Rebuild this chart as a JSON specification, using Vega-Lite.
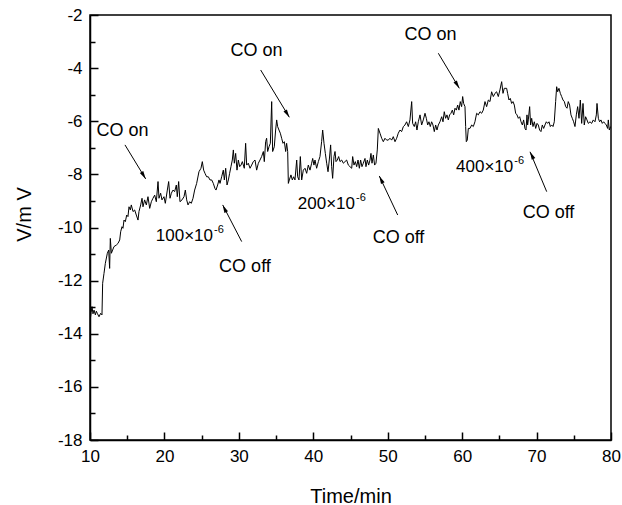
{
  "$schema": "https://vega.github.io/schema/vega-lite/v6.json",
  "width": 521,
  "height": 425,
  "autosize": "none",
  "padding": {"left": 90, "top": 15, "right": 11, "bottom": 65},
  "background": "white",
  "config": {
    "view": {"stroke": "black", "strokeWidth": 1.5},
    "font": "Liberation Sans",
    "axis": {
      "grid": false,
      "labelFlush": false,
      "labelOverlap": false,
      "domainColor": "black",
      "domainWidth": 1.5,
      "tickColor": "black",
      "tickWidth": 1.5,
      "labelColor": "black",
      "labelFont": "Liberation Sans",
      "labelFontSize": 17,
      "titleFont": "Liberation Sans",
      "titleFontWeight": "normal",
      "titleColor": "black",
      "titleFontSize": 20
    }
  },
  "datasets": {
    "trace": [
      {"t":10.00,"v":-13.55},{"t":10.15,"v":-13.20},{"t":10.27,"v":-12.98},{"t":10.40,"v":-13.25},{"t":10.54,"v":-13.11},
      {"t":10.72,"v":-13.29},{"t":10.85,"v":-13.15},{"t":10.98,"v":-13.23},{"t":11.21,"v":-13.36},{"t":11.43,"v":-13.23},
      {"t":11.61,"v":-13.29},{"t":11.70,"v":-12.10},{"t":11.88,"v":-11.73},{"t":12.06,"v":-11.35},{"t":12.33,"v":-10.97},
      {"t":12.51,"v":-10.85},{"t":12.64,"v":-11.54},{"t":12.73,"v":-10.41},{"t":12.87,"v":-10.97},{"t":13.04,"v":-10.85},
      {"t":13.22,"v":-10.72},{"t":13.54,"v":-10.66},{"t":13.76,"v":-10.60},{"t":13.99,"v":-10.47},{"t":14.12,"v":-10.16},
      {"t":14.30,"v":-9.97},{"t":14.43,"v":-10.03},{"t":14.57,"v":-9.72},{"t":14.75,"v":-9.78},{"t":14.93,"v":-9.53},
      {"t":15.10,"v":-9.59},{"t":15.24,"v":-9.22},{"t":15.42,"v":-9.34},{"t":15.55,"v":-9.15},{"t":15.78,"v":-9.40},
      {"t":16.00,"v":-9.34},{"t":16.22,"v":-9.53},{"t":16.45,"v":-9.72},{"t":16.58,"v":-9.40},{"t":16.81,"v":-9.15},
      {"t":16.99,"v":-8.90},{"t":17.12,"v":-9.22},{"t":17.34,"v":-8.96},{"t":17.57,"v":-9.15},{"t":17.79,"v":-8.84},
      {"t":18.02,"v":-9.28},{"t":18.24,"v":-9.03},{"t":18.46,"v":-8.90},{"t":18.69,"v":-8.78},{"t":18.91,"v":-9.03},
      {"t":19.14,"v":-8.27},{"t":19.27,"v":-8.90},{"t":19.49,"v":-8.71},{"t":19.67,"v":-8.96},{"t":19.94,"v":-8.84},
      {"t":20.12,"v":-9.09},{"t":20.39,"v":-8.59},{"t":20.57,"v":-8.27},{"t":20.75,"v":-8.90},{"t":20.93,"v":-8.71},
      {"t":21.15,"v":-8.59},{"t":21.37,"v":-8.65},{"t":21.60,"v":-8.40},{"t":21.73,"v":-8.84},{"t":21.91,"v":-8.27},
      {"t":22.09,"v":-9.03},{"t":22.36,"v":-8.96},{"t":22.63,"v":-8.84},{"t":22.81,"v":-8.59},{"t":22.99,"v":-8.96},
      {"t":23.17,"v":-9.15},{"t":23.39,"v":-9.03},{"t":23.61,"v":-9.09},{"t":23.84,"v":-8.90},{"t":24.06,"v":-8.59},
      {"t":24.33,"v":-8.34},{"t":24.64,"v":-7.90},{"t":24.91,"v":-7.77},{"t":25.09,"v":-7.52},{"t":25.27,"v":-7.84},
      {"t":25.45,"v":-7.96},{"t":25.67,"v":-8.09},{"t":25.90,"v":-8.09},{"t":26.12,"v":-8.21},{"t":26.35,"v":-8.21},
      {"t":26.57,"v":-8.34},{"t":26.79,"v":-8.53},{"t":26.93,"v":-8.59},{"t":27.15,"v":-8.40},{"t":27.33,"v":-8.21},
      {"t":27.47,"v":-8.34},{"t":27.69,"v":-8.09},{"t":27.91,"v":-7.84},{"t":28.05,"v":-8.21},{"t":28.23,"v":-7.77},
      {"t":28.41,"v":-8.40},{"t":28.59,"v":-8.21},{"t":28.76,"v":-7.96},{"t":28.94,"v":-7.71},{"t":29.12,"v":-7.46},
      {"t":29.26,"v":-7.08},{"t":29.39,"v":-7.58},{"t":29.57,"v":-7.21},{"t":29.75,"v":-7.84},{"t":29.93,"v":-7.46},
      {"t":30.11,"v":-7.71},{"t":30.29,"v":-7.65},{"t":30.47,"v":-7.52},{"t":30.73,"v":-7.77},{"t":30.91,"v":-6.83},
      {"t":31.05,"v":-7.65},{"t":31.27,"v":-7.58},{"t":31.50,"v":-7.77},{"t":31.72,"v":-7.65},{"t":31.94,"v":-7.52},
      {"t":32.17,"v":-7.46},{"t":32.39,"v":-7.84},{"t":32.62,"v":-7.58},{"t":32.84,"v":-7.46},{"t":33.06,"v":-7.33},
      {"t":33.29,"v":-7.14},{"t":33.42,"v":-7.52},{"t":33.60,"v":-6.77},{"t":33.73,"v":-6.64},{"t":33.87,"v":-7.14},
      {"t":34.05,"v":-6.96},{"t":34.23,"v":-6.83},{"t":34.41,"v":-5.26},{"t":34.54,"v":-7.14},{"t":34.76,"v":-6.96},
      {"t":34.94,"v":-6.33},{"t":35.08,"v":-5.95},{"t":35.21,"v":-6.20},{"t":35.39,"v":-6.33},{"t":35.57,"v":-6.45},
      {"t":35.75,"v":-6.64},{"t":35.93,"v":-6.83},{"t":36.11,"v":-6.77},{"t":36.29,"v":-7.14},{"t":36.42,"v":-6.83},
      {"t":36.56,"v":-7.14},{"t":36.65,"v":-8.34},{"t":36.78,"v":-8.21},{"t":37.00,"v":-8.02},{"t":37.18,"v":-8.21},
      {"t":37.36,"v":-8.09},{"t":37.54,"v":-8.21},{"t":37.77,"v":-7.46},{"t":37.90,"v":-8.09},{"t":38.08,"v":-8.21},
      {"t":38.26,"v":-7.33},{"t":38.44,"v":-8.21},{"t":38.66,"v":-7.84},{"t":38.89,"v":-7.77},{"t":39.11,"v":-7.96},
      {"t":39.33,"v":-7.65},{"t":39.56,"v":-7.84},{"t":39.78,"v":-7.58},{"t":39.92,"v":-7.40},{"t":40.09,"v":-7.65},
      {"t":40.23,"v":-7.46},{"t":40.45,"v":-7.77},{"t":40.68,"v":-7.52},{"t":40.90,"v":-7.33},{"t":41.12,"v":-6.77},
      {"t":41.26,"v":-6.33},{"t":41.44,"v":-6.83},{"t":41.62,"v":-7.21},{"t":41.80,"v":-7.58},{"t":41.98,"v":-7.90},
      {"t":42.15,"v":-7.46},{"t":42.33,"v":-6.89},{"t":42.47,"v":-7.71},{"t":42.60,"v":-8.15},{"t":42.78,"v":-7.33},
      {"t":42.92,"v":-7.14},{"t":43.05,"v":-7.52},{"t":43.23,"v":-7.46},{"t":43.41,"v":-7.33},{"t":43.59,"v":-7.52},
      {"t":43.81,"v":-7.46},{"t":44.04,"v":-7.58},{"t":44.26,"v":-7.52},{"t":44.48,"v":-7.46},{"t":44.71,"v":-7.65},
      {"t":44.93,"v":-7.71},{"t":45.16,"v":-7.77},{"t":45.29,"v":-7.33},{"t":45.47,"v":-7.65},{"t":45.65,"v":-7.52},
      {"t":45.83,"v":-7.71},{"t":46.01,"v":-7.46},{"t":46.19,"v":-7.77},{"t":46.36,"v":-7.46},{"t":46.54,"v":-7.71},
      {"t":46.72,"v":-7.58},{"t":46.95,"v":-7.40},{"t":47.08,"v":-7.71},{"t":47.26,"v":-7.46},{"t":47.44,"v":-7.65},
      {"t":47.62,"v":-7.46},{"t":47.75,"v":-7.21},{"t":47.89,"v":-7.58},{"t":48.07,"v":-7.27},{"t":48.24,"v":-7.65},
      {"t":48.42,"v":-7.58},{"t":48.60,"v":-7.08},{"t":48.74,"v":-6.27},{"t":48.96,"v":-6.45},{"t":49.19,"v":-6.64},
      {"t":49.41,"v":-6.77},{"t":49.63,"v":-6.64},{"t":49.86,"v":-6.71},{"t":50.08,"v":-6.71},{"t":50.30,"v":-6.64},
      {"t":50.53,"v":-6.71},{"t":50.75,"v":-6.58},{"t":50.98,"v":-6.77},{"t":51.20,"v":-6.64},{"t":51.42,"v":-6.45},
      {"t":51.65,"v":-6.33},{"t":51.87,"v":-6.39},{"t":52.10,"v":-6.20},{"t":52.32,"v":-6.14},{"t":52.54,"v":-6.02},
      {"t":52.77,"v":-6.20},{"t":52.99,"v":-5.95},{"t":53.22,"v":-5.26},{"t":53.35,"v":-6.08},{"t":53.57,"v":-6.20},
      {"t":53.75,"v":-6.02},{"t":53.93,"v":-6.33},{"t":54.11,"v":-6.02},{"t":54.34,"v":-5.76},{"t":54.56,"v":-6.14},
      {"t":54.78,"v":-5.95},{"t":55.01,"v":-5.70},{"t":55.19,"v":-5.89},{"t":55.37,"v":-6.14},{"t":55.54,"v":-6.02},
      {"t":55.72,"v":-6.20},{"t":55.90,"v":-6.02},{"t":56.08,"v":-6.14},{"t":56.26,"v":-6.39},{"t":56.44,"v":-6.14},
      {"t":56.62,"v":-6.33},{"t":56.80,"v":-6.14},{"t":57.02,"v":-6.02},{"t":57.25,"v":-5.83},{"t":57.43,"v":-6.02},
      {"t":57.60,"v":-5.64},{"t":57.78,"v":-5.89},{"t":57.96,"v":-5.76},{"t":58.14,"v":-5.95},{"t":58.32,"v":-5.76},
      {"t":58.50,"v":-5.70},{"t":58.68,"v":-5.58},{"t":58.86,"v":-5.76},{"t":59.04,"v":-5.51},{"t":59.22,"v":-5.58},
      {"t":59.40,"v":-5.39},{"t":59.57,"v":-5.58},{"t":59.75,"v":-5.26},{"t":59.93,"v":-5.45},{"t":60.07,"v":-5.07},
      {"t":60.20,"v":-5.33},{"t":60.38,"v":-5.45},{"t":60.47,"v":-6.20},{"t":60.56,"v":-6.77},{"t":60.69,"v":-6.71},
      {"t":60.83,"v":-6.27},{"t":61.05,"v":-6.27},{"t":61.28,"v":-6.14},{"t":61.50,"v":-6.20},{"t":61.72,"v":-6.02},
      {"t":61.95,"v":-5.70},{"t":62.17,"v":-5.76},{"t":62.40,"v":-5.64},{"t":62.62,"v":-5.70},{"t":62.84,"v":-5.58},
      {"t":63.07,"v":-5.26},{"t":63.29,"v":-5.45},{"t":63.52,"v":-5.20},{"t":63.74,"v":-5.26},{"t":63.96,"v":-4.89},
      {"t":64.19,"v":-5.07},{"t":64.41,"v":-4.95},{"t":64.63,"v":-4.89},{"t":64.86,"v":-5.07},{"t":65.08,"v":-4.82},
      {"t":65.31,"v":-4.51},{"t":65.49,"v":-4.95},{"t":65.66,"v":-4.76},{"t":65.98,"v":-4.76},{"t":66.11,"v":-4.95},
      {"t":66.29,"v":-5.20},{"t":66.47,"v":-5.14},{"t":66.65,"v":-5.33},{"t":66.83,"v":-5.26},{"t":67.01,"v":-5.39},
      {"t":67.19,"v":-5.70},{"t":67.37,"v":-5.76},{"t":67.55,"v":-5.89},{"t":67.73,"v":-5.83},{"t":67.91,"v":-6.02},
      {"t":68.09,"v":-6.14},{"t":68.26,"v":-5.95},{"t":68.44,"v":-6.27},{"t":68.58,"v":-6.33},{"t":68.71,"v":-5.76},
      {"t":68.80,"v":-6.14},{"t":68.89,"v":-5.95},{"t":69.07,"v":-5.45},{"t":69.20,"v":-6.14},{"t":69.34,"v":-5.89},
      {"t":69.52,"v":-6.20},{"t":69.70,"v":-6.02},{"t":69.88,"v":-6.27},{"t":70.06,"v":-6.08},{"t":70.23,"v":-6.14},
      {"t":70.41,"v":-6.33},{"t":70.59,"v":-6.39},{"t":70.77,"v":-6.14},{"t":70.95,"v":-6.27},{"t":71.13,"v":-6.14},
      {"t":71.31,"v":-6.02},{"t":71.49,"v":-6.08},{"t":71.67,"v":-6.02},{"t":71.85,"v":-6.20},{"t":72.03,"v":-6.14},
      {"t":72.21,"v":-6.20},{"t":72.38,"v":-6.02},{"t":72.56,"v":-5.26},{"t":72.70,"v":-4.70},{"t":72.83,"v":-4.89},
      {"t":73.01,"v":-4.76},{"t":73.19,"v":-4.95},{"t":73.37,"v":-5.07},{"t":73.55,"v":-5.20},{"t":73.73,"v":-5.26},
      {"t":73.91,"v":-5.45},{"t":74.09,"v":-5.51},{"t":74.26,"v":-5.26},{"t":74.44,"v":-5.39},{"t":74.62,"v":-5.76},
      {"t":74.80,"v":-5.89},{"t":74.98,"v":-6.02},{"t":75.16,"v":-6.20},{"t":75.34,"v":-5.76},{"t":75.52,"v":-5.45},
      {"t":75.70,"v":-5.89},{"t":75.88,"v":-5.20},{"t":76.06,"v":-6.08},{"t":76.24,"v":-5.33},{"t":76.41,"v":-6.14},
      {"t":76.59,"v":-5.83},{"t":76.77,"v":-5.95},{"t":76.95,"v":-6.08},{"t":77.18,"v":-6.02},{"t":77.40,"v":-6.08},
      {"t":77.62,"v":-5.95},{"t":77.85,"v":-6.02},{"t":78.03,"v":-5.76},{"t":78.12,"v":-5.33},{"t":78.30,"v":-5.89},
      {"t":78.47,"v":-6.02},{"t":78.65,"v":-5.95},{"t":78.83,"v":-6.08},{"t":79.01,"v":-6.02},{"t":79.19,"v":-6.08},
      {"t":79.37,"v":-6.14},{"t":79.55,"v":-6.27},{"t":79.64,"v":-5.95},{"t":79.77,"v":-6.33},{"t":79.95,"v":-6.20}
    ],
    "arrows": [
      {"kind":"on","t1":14.70,"v1":-6.89,"t2":17.48,"v2":-8.17},
      {"kind":"on","t1":32.93,"v1":-4.07,"t2":36.78,"v2":-5.85},
      {"kind":"off","t1":30.38,"v1":-10.53,"t2":27.83,"v2":-9.15},
      {"kind":"off","t1":51.34,"v1":-9.53,"t2":48.87,"v2":-8.06},
      {"kind":"on","t1":56.80,"v1":-3.44,"t2":59.62,"v2":-4.76},
      {"kind":"off","t1":71.36,"v1":-8.65,"t2":69.12,"v2":-7.15}
    ],
    "notes": [
      {"t":14.37,"v":-6.35,"text":"CO on"},
      {"t":32.37,"v":-3.37,"text":"CO on"},
      {"t":30.82,"v":-11.47,"text":"CO off"},
      {"t":51.45,"v":-10.38,"text":"CO off"},
      {"t":55.75,"v":-2.75,"text":"CO on"},
      {"t":71.60,"v":-9.44,"text":"CO off"}
    ],
    "conc": [
      {"t":26.53,"v":-10.32,"base":"100×10","exp":"-6"},
      {"t":45.60,"v":-9.10,"base":"200×10","exp":"-6"},
      {"t":66.87,"v":-7.71,"base":"400×10","exp":"-6"}
    ]
  },
  "encoding": {
    "x": {
      "type": "quantitative",
      "scale": {"domain": [10, 80], "nice": false, "zero": false},
      "axis": {
        "title": "Time/min",
        "values": [10,15,20,25,30,35,40,45,50,55,60,65,70,75,80],
        "labelExpr": "datum.value % 10 === 0 ? '' + datum.value : ''",
        "tickSize": {"condition": {"test": "datum.value % 10 === 0", "value": -8}, "value": -5},
        "labelPadding": 16,
        "titlePadding": 19
      }
    },
    "y": {
      "type": "quantitative",
      "scale": {"domain": [-18, -2], "nice": false, "zero": false},
      "axis": {
        "title": "V/m V",
        "values": [-18,-17,-16,-15,-14,-13,-12,-11,-10,-9,-8,-7,-6,-5,-4,-3,-2],
        "labelExpr": "datum.value % 2 === 0 ? '' + datum.value : ''",
        "tickSize": {"condition": {"test": "datum.value % 2 === 0", "value": -8}, "value": -5},
        "labelPadding": 16,
        "titlePadding": 23,
        "titleY": 199
      }
    }
  },
  "layer": [
    {
      "data": {"name": "trace"},
      "mark": {"type": "line", "color": "black", "strokeWidth": 1, "clip": true},
      "encoding": {"x": {"field": "t"}, "y": {"field": "v"}}
    },
    {
      "data": {"name": "arrows"},
      "mark": {"type": "rule", "color": "black", "strokeWidth": 1},
      "encoding": {"x": {"field": "t1"}, "y": {"field": "v1"}, "x2": {"field": "t2"}, "y2": {"field": "v2"}}
    },
    {
      "data": {"name": "arrows"},
      "transform": [{"filter": "datum.kind === 'on'"}],
      "mark": {"type": "point", "shape": "M0,0L0.5,2L-0.5,2Z", "filled": true, "color": "black", "opacity": 1, "size": 64, "angle": 149},
      "encoding": {"x": {"field": "t2"}, "y": {"field": "v2"}}
    },
    {
      "data": {"name": "arrows"},
      "transform": [{"filter": "datum.kind === 'off'"}],
      "mark": {"type": "point", "shape": "M0,0L0.5,2L-0.5,2Z", "filled": true, "color": "black", "opacity": 1, "size": 64, "angle": 334},
      "encoding": {"x": {"field": "t2"}, "y": {"field": "v2"}}
    },
    {
      "data": {"name": "notes"},
      "mark": {"type": "text", "fontSize": 18, "align": "center", "baseline": "middle", "color": "black", "font": "Liberation Sans"},
      "encoding": {"x": {"field": "t"}, "y": {"field": "v"}, "text": {"field": "text"}}
    },
    {
      "data": {"name": "conc"},
      "mark": {"type": "text", "fontSize": 17, "align": "right", "baseline": "middle", "color": "black", "font": "Liberation Sans"},
      "encoding": {"x": {"field": "t"}, "y": {"field": "v"}, "text": {"field": "base"}}
    },
    {
      "data": {"name": "conc"},
      "mark": {"type": "text", "fontSize": 11, "align": "left", "baseline": "middle", "dy": -6, "dx": 1, "color": "black", "font": "Liberation Sans"},
      "encoding": {"x": {"field": "t"}, "y": {"field": "v"}, "text": {"field": "exp"}}
    }
  ]
}
